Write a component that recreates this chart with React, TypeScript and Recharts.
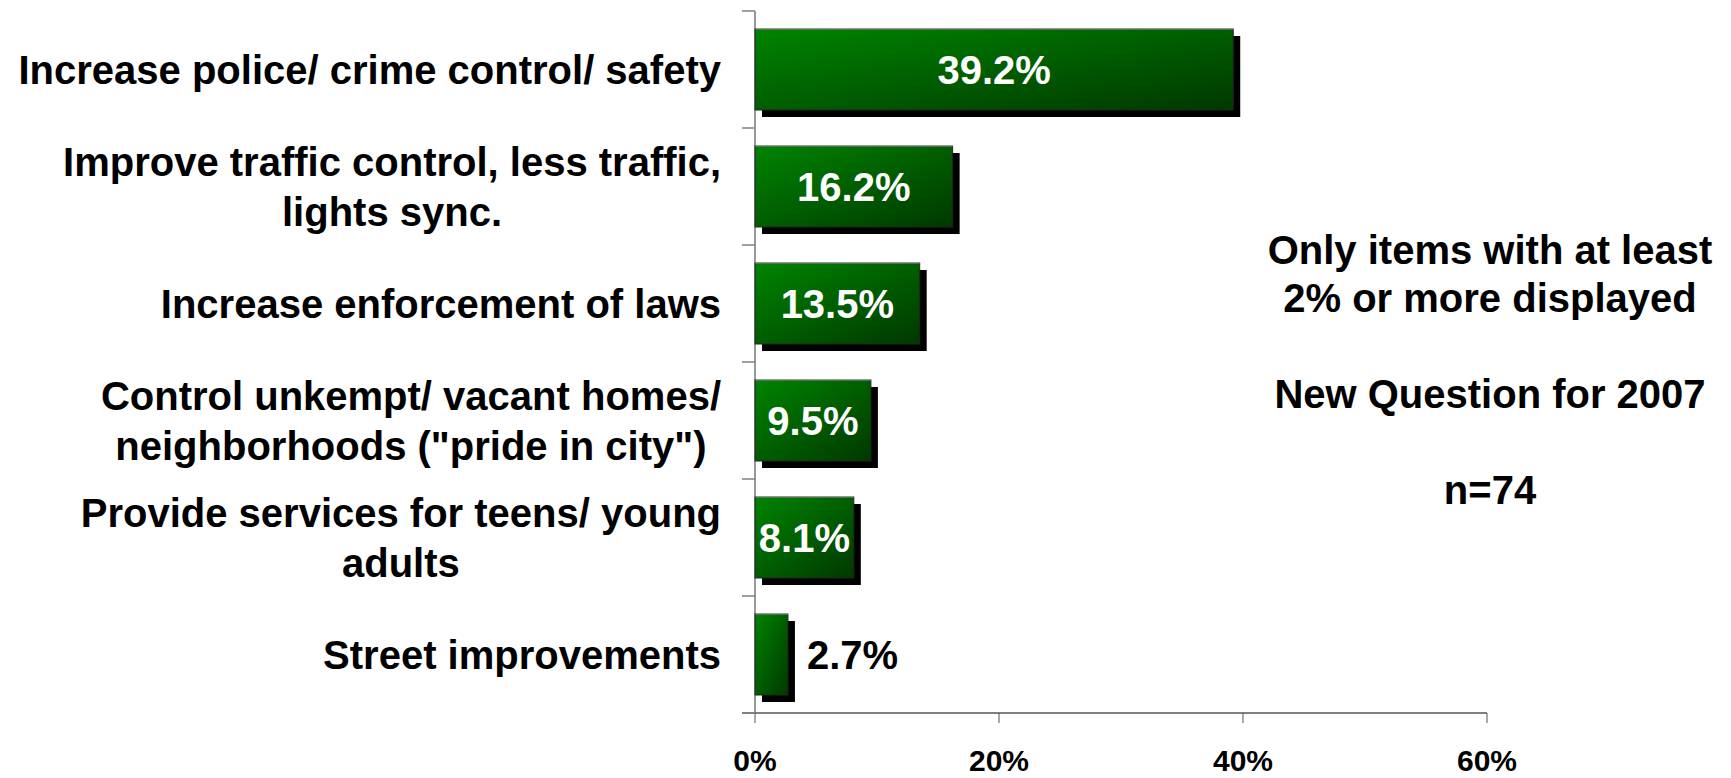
import React from "react";
import { BarChart, Bar, XAxis, YAxis, LabelList } from "recharts";

const categories = [
  "Increase police/ crime control/ safety",
  "Improve traffic control, less traffic,\nlights sync.",
  "Increase enforcement of laws",
  "Control unkempt/ vacant homes/\nneighborhoods (\"pride in city\")",
  "Provide services for teens/ young\nadults",
  "Street improvements",
];
const values = [39.2, 16.2, 13.5, 9.5, 8.1, 2.7];
const xTicks = [0, 20, 40, 60];
const notes = ["Only items with at least", "2% or more displayed", "", "New Question for 2007", "", "n=74"];

const data = categories.map((category, i) => ({ category, value: values[i] }));

const W = 1731;
const H = 778;
const TOP = 11;
const AXIS_X = 755;
const X_AXIS_H = 65;
const PLOT_BOTTOM = H - X_AXIS_H;
const BAND = (PLOT_BOTTOM - TOP) / categories.length;
const FONT = "'Liberation Sans', Arial, sans-serif";

let ctx: CanvasRenderingContext2D | null = null;
function textWidth(s: string) {
  if (!ctx) {
    ctx = document.createElement("canvas").getContext("2d");
    if (ctx) ctx.font = `bold 40px ${FONT}`;
  }
  return ctx ? ctx.measureText(s).width : s.length * 20;
}

function CategoryTick(props: any) {
  const { y, payload, index } = props;
  const lines: string[] = String(payload.value).split("\n");
  const right = AXIS_X - 34;
  const maxW = Math.max(...lines.map(textWidth));
  const cx = right - maxW / 2;
  const top = y - BAND / 2;
  const last = index === categories.length - 1;
  return (
    <g>
      <line x1={AXIS_X - 13} x2={AXIS_X} y1={top} y2={top} stroke="#808080" strokeWidth={1.5} />
      {last && <line x1={AXIS_X - 13} x2={AXIS_X} y1={top + BAND} y2={top + BAND} stroke="#808080" strokeWidth={2} />}
      {lines.map((l, i) => (
        <text
          key={i}
          x={lines.length > 1 ? cx : right}
          y={y + (i - (lines.length - 1) / 2) * 50 + 14.3}
          textAnchor={lines.length > 1 ? "middle" : "end"}
          fontFamily={FONT}
          fontWeight="bold"
          fontSize={40}
          fill="#000"
        >
          {l}
        </text>
      ))}
    </g>
  );
}

function PctTick(props: any) {
  const { x, payload } = props;
  return (
    <text x={x} y={PLOT_BOTTOM + 58} textAnchor="middle" fontFamily={FONT} fontWeight="bold" fontSize={30} fill="#000">
      {payload.value}%
    </text>
  );
}

function ShadowBar(props: any) {
  const { x, y, width, height } = props;
  return (
    <g>
      <rect x={x + 7} y={y + 7} width={width} height={height} fill="#000" />
      <rect x={x} y={y} width={width} height={height} fill="url(#barGrad)" stroke="#1a2a1a" strokeWidth={1} />
      <line x1={x} x2={x + width} y1={y} y2={y} stroke="#9a9a9a" strokeWidth={1} />
    </g>
  );
}

function ValueLabel(props: any) {
  const { x, y, width, height, value } = props;
  const inside = value >= 5;
  return (
    <text
      x={inside ? x + width / 2 : x + width + 19}
      y={y + height / 2 + 14.3}
      textAnchor={inside ? "middle" : "start"}
      fontFamily={FONT}
      fontWeight="bold"
      fontSize={40}
      fill={inside ? "#fff" : "#000"}
    >
      {value.toFixed(1)}%
    </text>
  );
}

export default function App() {
  return (
    <div style={{ position: "fixed", left: 0, top: 0, width: W, height: H, background: "#fff", overflow: "hidden" }}>
      <BarChart width={W} height={H} data={data} layout="vertical" margin={{ top: TOP, right: W - 1487, bottom: 0, left: 0 }}>
        <defs>
          <linearGradient id="barGrad" x1="0" y1="0" x2="1" y2="1">
            <stop offset="0%" stopColor="#008400" />
            <stop offset="100%" stopColor="#003800" />
          </linearGradient>
        </defs>
        <XAxis
          type="number"
          domain={[0, 60]}
          ticks={xTicks}
          height={X_AXIS_H}
          axisLine={{ stroke: "#808080", strokeWidth: 2 }}
          tickLine={{ stroke: "#555" }}
          tickSize={10}
          tickMargin={0}
          tick={<PctTick />}
        />
        <YAxis
          type="category"
          dataKey="category"
          width={AXIS_X}
          interval={0}
          axisLine={{ stroke: "#333", strokeWidth: 1 }}
          tickLine={false}
          tick={<CategoryTick />}
        />
        <Bar dataKey="value" barSize={81} shape={<ShadowBar />} isAnimationActive={false}>
          <LabelList dataKey="value" content={<ValueLabel />} />
        </Bar>
      </BarChart>
      <div
        style={{
          position: "absolute",
          left: 1240,
          top: 226,
          width: 500,
          textAlign: "center",
          fontFamily: FONT,
          fontWeight: "bold",
          fontSize: 40,
          lineHeight: "48px",
          color: "#000",
        }}
      >
        {notes.map((n, i) => (
          <div key={i} style={{ height: 48 }}>
            {n}
          </div>
        ))}
      </div>
    </div>
  );
}
